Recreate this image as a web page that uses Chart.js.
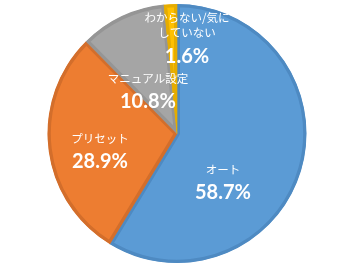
<!DOCTYPE html>
<html>
<head>
<meta charset="utf-8">
<script src="https://cdn.jsdelivr.net/npm/chart.js@4"></script>
<style>
  html, body { margin: 0; padding: 0; background: #fff; }
  #wrap { width: 357px; height: 268px; }
</style>
</head>
<body>
<div id="wrap"><canvas id="myChart" width="357" height="268"></canvas></div>
<script>
var categories = ['オート', 'プリセット', 'マニュアル設定', 'わからない/気に\nしていない'];
var shares = [58.7, 28.9, 10.8, 1.6];
var fillColors = ['#5B9BD5', '#ED7D31', '#A5A5A5', '#FFC000'];
var edgeColors = ['#4E8AC2', '#D36E2B', '#959595', '#E5AC00'];

// where each label block sits (percent line centre), in units of the radius
var labelSpots = [[0.355, 0.459], [-0.595, 0.220], [-0.224, -0.243], [0.077, -0.598]];

var insideLabels = {
    id: 'insideLabels',
    afterDatasetsDraw: function(chart) {
        var ctx = chart.ctx;
        var arcs = chart.getDatasetMeta(0).data;
        ctx.save();
        ctx.fillStyle = '#fff';
        ctx.textAlign = 'center';
        ctx.textBaseline = 'middle';
        arcs.forEach(function(arc, i) {
            var r = arc.outerRadius;
            var x = arc.x + labelSpots[i][0] * r;
            var y = arc.y + labelSpots[i][1] * r;
            ctx.font = 'bold 20px Lato, "Noto Sans", sans-serif';
            ctx.fillText(shares[i].toFixed(1) + '%', x, y);
            var lines = categories[i].split('\n');
            ctx.font = '11.5px "Noto Sans CJK JP", sans-serif';
            for (var k = 0; k < lines.length; k++) {
                var ly = y - 23 - (lines.length - 1 - k) * 15;
                ctx.fillText(lines[k], x, ly);
            }
        });
        ctx.restore();
    }
};

var ctx = document.getElementById('myChart').getContext('2d');
var myChart = new Chart(ctx, {
    type: 'pie',
    data: {
        labels: categories,
        datasets: [{
            data: shares,
            backgroundColor: fillColors,
            borderColor: edgeColors,
            borderWidth: 3,
            borderAlign: 'inner'
        }]
    },
    options: {
        responsive: false,
        animation: false,
        layout: { padding: { top: 4, bottom: 5, left: 0, right: 3 } },
        plugins: {
            legend: { display: false },
            tooltip: { enabled: false }
        }
    },
    plugins: [insideLabels]
});
</script>
</body>
</html>
